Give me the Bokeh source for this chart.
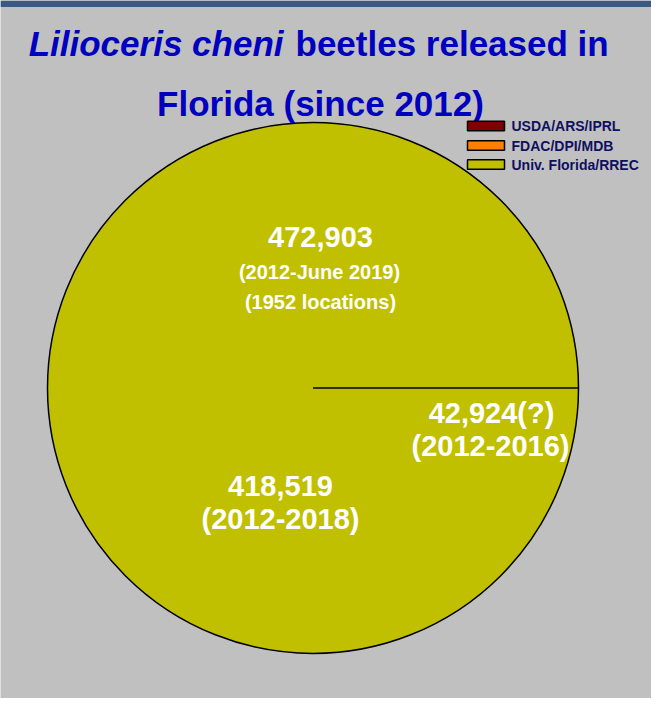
import math
from bokeh.plotting import figure
from bokeh.models import Range1d, ColumnDataSource
from bokeh.core.properties import value
from bokeh.embed import file_html
from bokeh.resources import INLINE

# ---- data ----
agencies = ["USDA/ARS/IPRL", "FDAC/DPI/MDB", "Univ. Florida/RREC"]
agency_colors = ["#800000", "#FF8000", "#C0C000"]
released = [0, 0, 472903]

title_italic = "Lilioceris cheni"
title_rest = "beetles released in"
title_line2 = "Florida (since 2012)"

total_label = ["472,903", "(2012-June 2019)", "(1952 locations)"]
fdac_label = ["42,924(?)", "(2012-2016)"]
uf_label = ["418,519", "(2012-2018)"]

W, H = 651, 698
FONT = value("Liberation Sans")


def Y(py):
    # picture pixel row -> data y
    return 714 - py


p = figure(width=W, height=H, output_backend="svg", toolbar_location=None,
           x_range=Range1d(0, W), y_range=Range1d(714 - H, 714),
           min_border=0, outline_line_color=None,
           background_fill_color="#C0C0C0", border_fill_color="#C0C0C0")
p.axis.visible = False
p.grid.visible = False

# top band
p.quad(left=[0], right=[W], top=[Y(0)], bottom=[Y(6.5)],
       fill_color="#3A5A84", line_color=None)

# ---- pie ----
cx, cy, r = 312.5, Y(387.5), 265.5
total = sum(released)
starts, ends, cols = [], [], []
acc = 0.0
for v, c in zip(released, agency_colors):
    a0 = acc / total * 2 * math.pi
    acc += v
    a1 = acc / total * 2 * math.pi
    if v > 0:
        starts.append(a0)
        ends.append(a1)
        cols.append(c)
src = ColumnDataSource(dict(x=[cx] * len(starts), y=[cy] * len(starts),
                            s=starts, e=ends, c=cols))
p.wedge(x="x", y="y", radius=r, start_angle="s", end_angle="e",
        fill_color="c", line_color="black", line_width=1.5, source=src)

# ---- title ----
tc = "#0000C0"
p.text(x=[283], y=[Y(42.7)], text=[title_italic], text_font=FONT,
       text_font_size="35px", text_font_style="bold italic",
       text_color=tc, text_align="right", text_baseline="alphabetic")
p.text(x=[295], y=[Y(42.7)], text=[title_rest], text_font=FONT,
       text_font_size="35px", text_font_style="bold",
       text_color=tc, text_align="left", text_baseline="alphabetic")
p.text(x=[320], y=[Y(102.7)], text=[title_line2], text_font=FONT,
       text_font_size="35px", text_font_style="bold",
       text_color=tc, text_align="center", text_baseline="alphabetic")

# ---- legend (manual) ----
leg_y = [Y(125.5), Y(145), Y(164)]
p.rect(x=[485.5] * 3, y=leg_y, width=37, height=9.5,
       fill_color=agency_colors, line_color="black", line_width=1.5)
p.text(x=[511] * 3, y=leg_y, text=agencies, text_font=FONT,
       text_font_size="14px", text_font_style="bold", text_color="#101060",
       text_align="left", text_baseline="middle")

# ---- labels ----
def lab(xs, ys, texts, size):
    p.text(x=xs, y=ys, text=texts, text_font=FONT, text_font_size=size,
           text_font_style="bold", text_color="white",
           text_align="center", text_baseline="middle")

lab([320], [Y(236)], total_label[:1], "29px")
lab([319, 320], [Y(271), Y(301)], total_label[1:], "20px")
lab([491, 490], [Y(412), Y(445)], fdac_label, "29px")
lab([280, 280], [Y(485), Y(518)], uf_label, "29px")

open("out.html", "w").write(file_html(p, INLINE))
